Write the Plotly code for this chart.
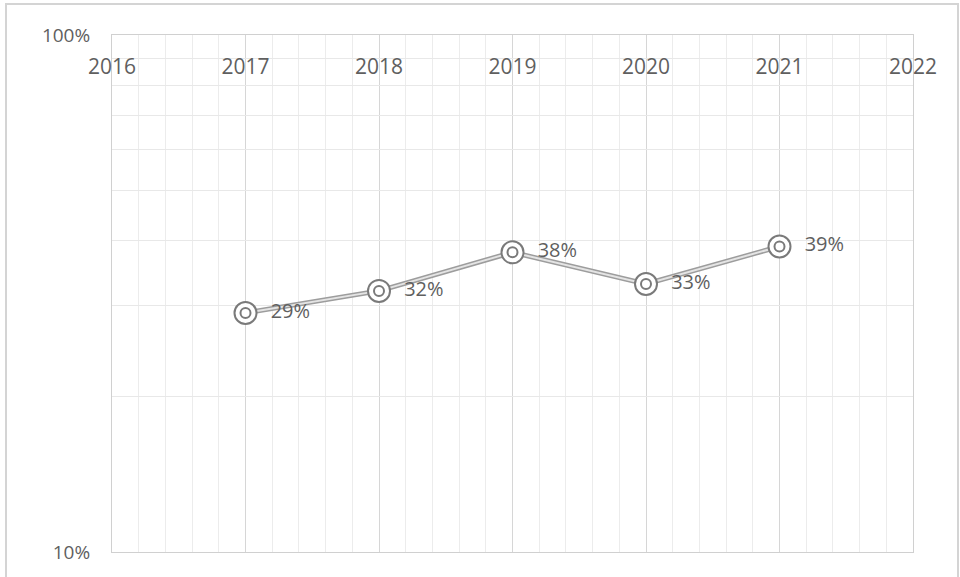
import plotly.graph_objects as go

# Share of total, by year
years = [2017, 2018, 2019, 2020, 2021]
shares = [0.29, 0.32, 0.38, 0.33, 0.39]
labels = ["29%", "32%", "38%", "33%", "39%"]

x_ticks = [2016, 2017, 2018, 2019, 2020, 2021, 2022]
y_ticks = [0.1, 0.2, 0.3, 0.4, 0.5, 0.6, 0.7, 0.8, 0.9, 1.0]
y_ticktext = ["10%", "", "", "", "", "", "", "", "", "100%"]

GRAY_TEXT = "#5f5f5f"
FONT = "Open Sans"

fig = go.Figure()

# double line: darker outer stroke with a pale core
fig.add_trace(go.Scatter(
    x=years, y=shares, mode="lines",
    line=dict(color="#9d9d9d", width=5),
    hoverinfo="skip", showlegend=False,
))
fig.add_trace(go.Scatter(
    x=years, y=shares, mode="lines",
    line=dict(color="#e4e4e4", width=2),
    hoverinfo="skip", showlegend=False,
))
# ring markers with value labels
fig.add_trace(go.Scatter(
    x=years, y=shares, mode="markers+text",
    marker=dict(size=22, color="white", line=dict(color="#7a7a7a", width=2)),
    text=["  " + t for t in labels], textposition="middle right",
    textfont=dict(family=FONT, size=20, color=GRAY_TEXT),
    showlegend=False,
))
fig.add_trace(go.Scatter(
    x=years, y=shares, mode="markers",
    marker=dict(size=10, color="white", line=dict(color="#7a7a7a", width=2)),
    hoverinfo="skip", showlegend=False,
))
# carrier trace for the year-label axis
fig.add_trace(go.Scatter(
    x=x_ticks, y=[None] * len(x_ticks), xaxis="x2", mode="markers",
    hoverinfo="skip", showlegend=False,
))

L, R, T, B = 112, 47, 35, 25
W, H = 960, 577
pw, ph = W - L - R, H - T - B

def px_x(p):
    return (p - L) / pw

def px_y(p):
    return (H - B - p) / ph

# outer chart frame
fig.add_shape(type="rect", xref="paper", yref="paper",
              x0=px_x(6), x1=px_x(958), y0=px_y(600), y1=px_y(4),
              line=dict(color="#d4d4d4", width=2), layer="below")

# caption fragment running off the top edge
fig.add_annotation(xref="paper", yref="paper", x=px_x(362), y=px_y(-12),
                   xanchor="center", yanchor="bottom", showarrow=False,
                   text="<i>p</i>", font=dict(family="Liberation Serif", size=22, color="black"))

fig.update_layout(
    width=W, height=H,
    margin=dict(l=L, r=R, t=T, b=B),
    paper_bgcolor="white", plot_bgcolor="white",
    font=dict(family=FONT, color=GRAY_TEXT),
    xaxis=dict(
        range=[2016, 2022],
        tickvals=x_ticks, showticklabels=False,
        showgrid=True, gridcolor="#d6d6d6", gridwidth=1,
        minor=dict(dtick=0.2, tick0=2016, showgrid=True, gridcolor="#ececec", gridwidth=1),
        showline=True, linecolor="#d0d0d0", linewidth=1, mirror=True,
        zeroline=False, ticks="",
    ),
    xaxis2=dict(
        range=[2016, 2022], overlaying="x", matches="x",
        anchor="free", position=px_y(78), side="top",
        tickvals=x_ticks, ticktext=[str(v) for v in x_ticks],
        tickfont=dict(family=FONT, size=21, color=GRAY_TEXT),
        ticklabeloverflow="allow",
        showgrid=False, showline=False, zeroline=False, ticks="",
    ),
    yaxis=dict(
        type="log", range=[-1, 0.0002],
        tickvals=y_ticks, ticktext=y_ticktext,
        tickfont=dict(family=FONT, size=19, color=GRAY_TEXT),
        ticklabelstandoff=17, ticklabeloverflow="allow",
        showgrid=True, gridcolor="#e8e8e8", gridwidth=1,
        showline=True, linecolor="#d0d0d0", linewidth=1, mirror=True,
        zeroline=False, ticks="",
    ),
)

fig.write_html("out.html")
